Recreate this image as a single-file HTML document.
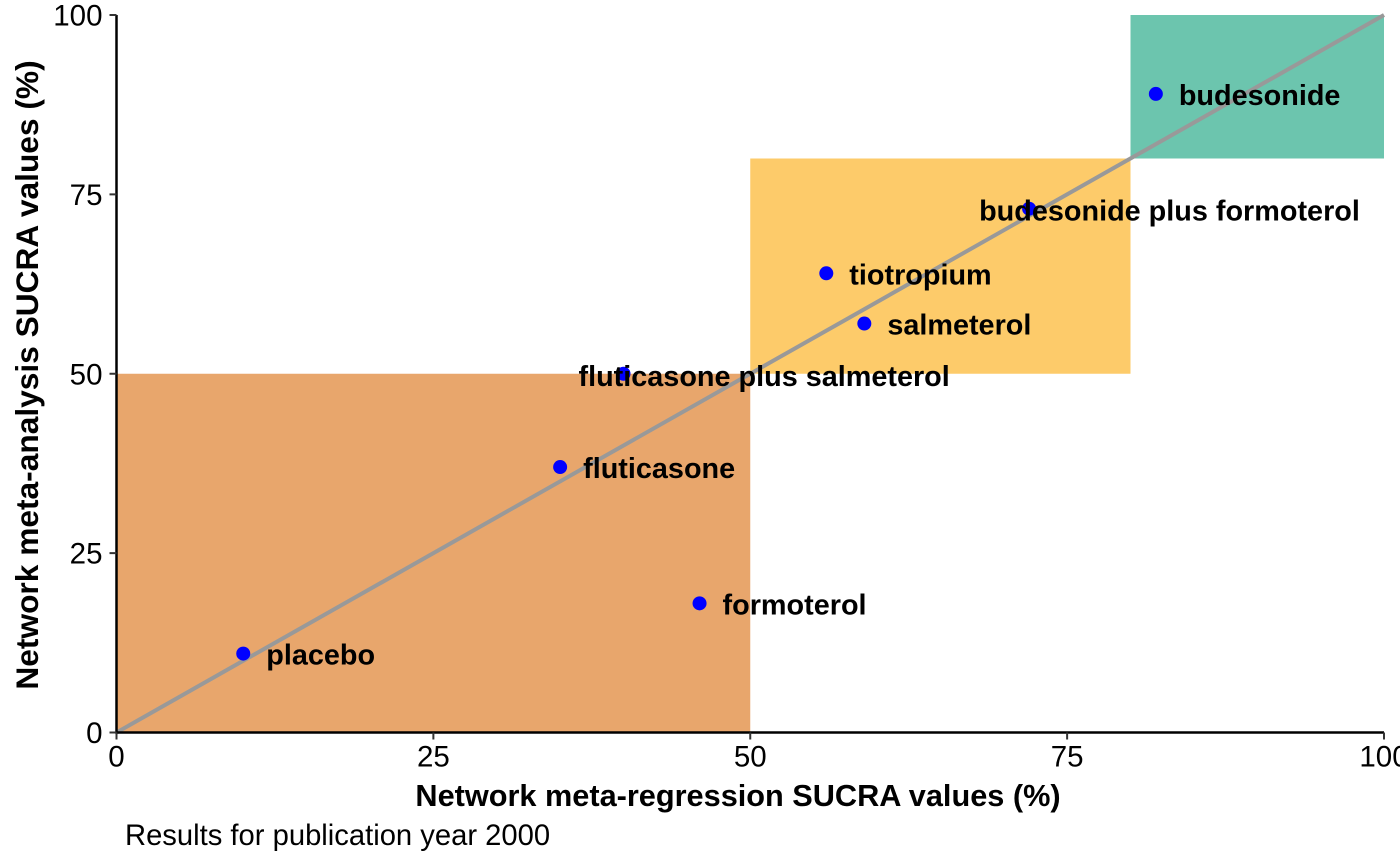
<!DOCTYPE html>
<html><head><meta charset="utf-8"><style>
html,body{margin:0;padding:0;background:#fff;}
svg{display:block;font-family:"Liberation Sans",Arial,sans-serif;}
</style></head><body>
<svg id="chart" width="1400" height="866" viewBox="0 0 1400 866">
<g id="regions"></g><g id="diag"></g><g id="pts"></g><g id="labels"></g><g id="axes"></g>
<text x="738" y="806" text-anchor="middle" font-size="30.7" font-weight="bold">Network meta-regression SUCRA values (%)</text>
<text transform="translate(38,375) rotate(-90)" text-anchor="middle" font-size="31.7" font-weight="bold">Network meta-analysis SUCRA values (%)</text>
<text x="125" y="845" font-size="29.2">Results for publication year 2000</text>
</svg>
<script>
const names=["placebo","fluticasone","formoterol","fluticasone plus salmeterol","tiotropium","salmeterol","budesonide plus formoterol","budesonide"];
const xVals=[10,35,46,40,56,59,72,82];
const yVals=[11,37,18,50,64,57,73,89];
const ticks=[0,25,50,75,100];
const regionX0=[0,50,80], regionX1=[50,80,100], regionY0=[0,50,80], regionY1=[50,80,100];
const regionColors=["#E8A66C","#FDCB6A","#6CC5AE"];
const regionNames=["low-region","mid-region","high-region"];
const X0=116.5,X1=1384,Y0=732.5,Y1=15;
const sx=v=>X0+(X1-X0)*v/100, sy=v=>Y0-(Y0-Y1)*v/100;
const NS="http://www.w3.org/2000/svg";
function mk(p,t,a){const e=document.createElementNS(NS,t);for(const k in a)e.setAttribute(k,a[k]);document.getElementById(p).appendChild(e);return e;}
regionColors.forEach((c,i)=>{const r=mk("regions","rect",{x:sx(regionX0[i]),y:sy(regionY1[i]),width:sx(regionX1[i])-sx(regionX0[i]),height:sy(regionY0[i])-sy(regionY1[i]),fill:c});

});
const l=mk("diag","line",{x1:sx(0),y1:sy(0),x2:sx(100),y2:sy(100),stroke:"#999",'stroke-width':4});


names.forEach((n,i)=>{const c=mk("pts","circle",{cx:sx(xVals[i]),cy:sy(yVals[i]),r:7,fill:"#0000FF"});


let tx=sx(xVals[i])+23, ty=sy(yVals[i])+11;
if(n==="fluticasone plus salmeterol"){tx=sx(xVals[i])-45;ty=sy(yVals[i])+12;}
if(n==="budesonide plus formoterol"){tx=sx(xVals[i])-50;ty=sy(yVals[i])+12;}
const t=mk("labels","text",{x:tx,y:ty,'font-size':28.8,'font-weight':'bold',fill:'#000'});t.textContent=n;

});
const ax=mk("axes","path",{d:`M${X0},${Y1} V${Y0} H${X1}`,stroke:"#000",'stroke-width':2.5,fill:"none"});


ticks.forEach(v=>{
mk("axes","line",{x1:sx(v),x2:sx(v),y1:Y0,y2:Y0+7,stroke:"#333",'stroke-width':2});
mk("axes","line",{x1:X0-7,x2:X0,y1:sy(v),y2:sy(v),stroke:"#333",'stroke-width':2});
const a=mk("axes","text",{x:sx(v),y:Y0+34,'text-anchor':'middle','font-size':29.5,fill:'#000'});a.textContent=v;


const b=mk("axes","text",{x:X0-14,y:sy(v)+10.5,'text-anchor':'end','font-size':29.5,fill:'#000'});b.textContent=v;

});
</script>
</body></html>
